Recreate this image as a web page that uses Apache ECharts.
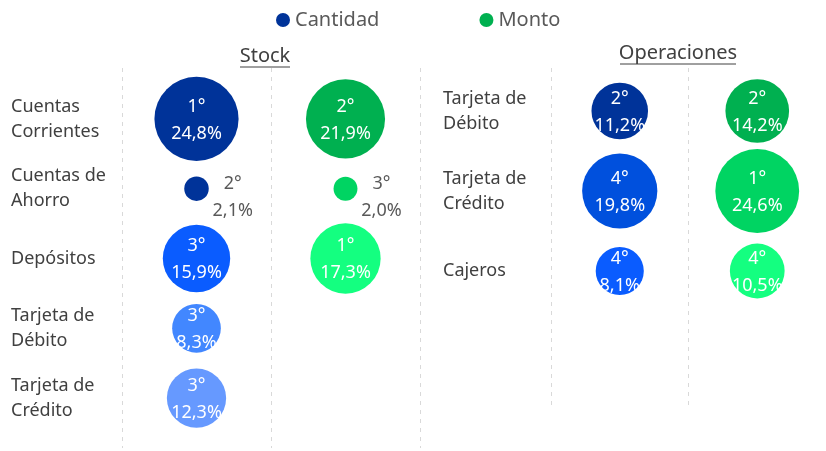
<!DOCTYPE html>
<html>
<head>
<meta charset="utf-8">
<script src="https://cdn.jsdelivr.net/npm/echarts@6/dist/echarts.min.js"></script>
<style>
  html, body { margin: 0; padding: 0; background: #fff; }
  #chart { width: 826px; height: 451px; }
</style>
</head>
<body>
<div id="chart"></div>
<script>
// Datos
const columnas = ['Cantidad', 'Monto'];

const stockFilas = ['Cuentas\nCorrientes', 'Cuentas de\nAhorro', 'Depósitos', 'Tarjeta de\nDébito', 'Tarjeta de\nCrédito'];
const stockCantidad = [24.8, 2.1, 15.9, 8.3, 12.3];
const stockCantidadRank = [1, 2, 3, 3, 3];
const stockMonto = [21.9, 2.0, 17.3];
const stockMontoRank = [2, 3, 1];

const operFilas = ['Tarjeta de\nDébito', 'Tarjeta de\nCrédito', 'Cajeros'];
const operCantidad = [11.2, 19.8, 8.1];
const operCantidadRank = [2, 4, 4];
const operMonto = [14.2, 24.6, 10.5];
const operMontoRank = [2, 1, 4];

const stockCantidadColores = ['#003399', '#003399', '#0a5cff', '#4287ff', '#6699ff'];
const stockMontoColores = ['#00b050', '#00d462', '#14ff80'];
const operCantidadColores = ['#003399', '#0050dd', '#0a5cff'];
const operMontoColores = ['#00b050', '#00d462', '#14ff80'];

const FONT = 'Noto Sans';

function puntos(valores, ranks, colores, col) {
    return valores.map((v, i) => {
        const item = {
            value: [col, i, v, ranks[i]],
            itemStyle: { color: colores[i], opacity: 1 }
        };
        // burbujas chicas: etiqueta al costado
        if (v < 5) {
            item.label = {
                position: 'right',
                align: 'center',
                offset: [19, 9],
                color: '#595959'
            };
        }
        return item;
    });
}

function serie(nombre, color, grid, data) {
    return {
        name: nombre,
        type: 'scatter',
        xAxisIndex: grid,
        yAxisIndex: grid,
        clip: false,
        color: color,
        itemStyle: { opacity: 1 },
        symbolSize: val => 16.9 * Math.sqrt(val[2]),
        label: {
            show: true,
            position: 'inside',
            offset: [0, 1],
            color: '#fff',
            fontFamily: FONT,
            fontSize: 18,
            lineHeight: 27,
            formatter: p => p.value[3] + '°\n' + p.value[2].toFixed(1).replace('.', ',') + '%'
        },
        emphasis: { disabled: true },
        data: data
    };
}

const lineasAxis = (grid) => ({
    type: 'category',
    gridIndex: grid,
    data: columnas,
    axisLine: { show: false },
    axisTick: { show: false },
    axisLabel: { show: false },
    splitLine: { show: true, lineStyle: { color: '#d9d9d9', type: [4, 5], width: 1 } }
});

const hiddenX = (grid) => ({
    type: 'category',
    gridIndex: grid,
    data: columnas,
    show: false
});

const filasAxis = (grid, filas, margin) => ({
    type: 'category',
    gridIndex: grid,
    data: filas,
    inverse: true,
    axisLine: { show: false },
    axisTick: { show: false },
    splitLine: { show: false },
    axisLabel: {
        align: 'left',
        margin: margin,
        fontFamily: FONT,
        fontSize: 18,
        lineHeight: 25,
        color: '#404040'
    }
});

const myChart = echarts.init(document.getElementById('chart'));

const option = {
    backgroundColor: '#fff',
    animation: false,
    legend: {
        data: ['Cantidad', 'Monto'],
        left: 271,
        top: 5,
        icon: 'circle',
        itemWidth: 14,
        itemHeight: 14,
        itemGap: 100,
        textStyle: { fontFamily: FONT, fontSize: 20, color: '#595959' }
    },
    graphic: [
        { type: 'text', x: 265, y: 56, style: { text: 'Stock', fontFamily: FONT, fontSize: 20, fill: '#404040', align: 'center', verticalAlign: 'middle' } },
        { type: 'line', shape: { x1: 240, y1: 67, x2: 290, y2: 67 }, style: { stroke: '#404040', lineWidth: 1 } },
        { type: 'text', x: 678, y: 53, style: { text: 'Operaciones', fontFamily: FONT, fontSize: 20, fill: '#404040', align: 'center', verticalAlign: 'middle' } },
        { type: 'line', shape: { x1: 620, y1: 64, x2: 736, y2: 64 }, style: { stroke: '#404040', lineWidth: 1 } }
    ],
    grid: [
        { left: 122, top: 84, width: 298, height: 349 },
        { left: 551, top: 71, width: 280, height: 240 },
        { left: 122, top: 68, width: 298, height: 380 },
        { left: 551, top: 68, width: 280, height: 340 }
    ],
    xAxis: [hiddenX(0), hiddenX(1), lineasAxis(2), lineasAxis(3)],
    yAxis: [
        filasAxis(0, stockFilas, 111),
        filasAxis(1, operFilas, 108),
        { type: 'value', gridIndex: 2, show: false },
        { type: 'value', gridIndex: 3, show: false }
    ],
    series: [
        serie('Cantidad', '#003399', 0, puntos(stockCantidad, stockCantidadRank, stockCantidadColores, 0)),
        serie('Monto', '#00b050', 0, puntos(stockMonto, stockMontoRank, stockMontoColores, 1)),
        serie('Cantidad', '#003399', 1, puntos(operCantidad, operCantidadRank, operCantidadColores, 0)),
        serie('Monto', '#00b050', 1, puntos(operMonto, operMontoRank, operMontoColores, 1))
    ]
};

myChart.setOption(option);

window.addEventListener('resize', function() {
    myChart.resize();
});
</script>
</body>
</html>
